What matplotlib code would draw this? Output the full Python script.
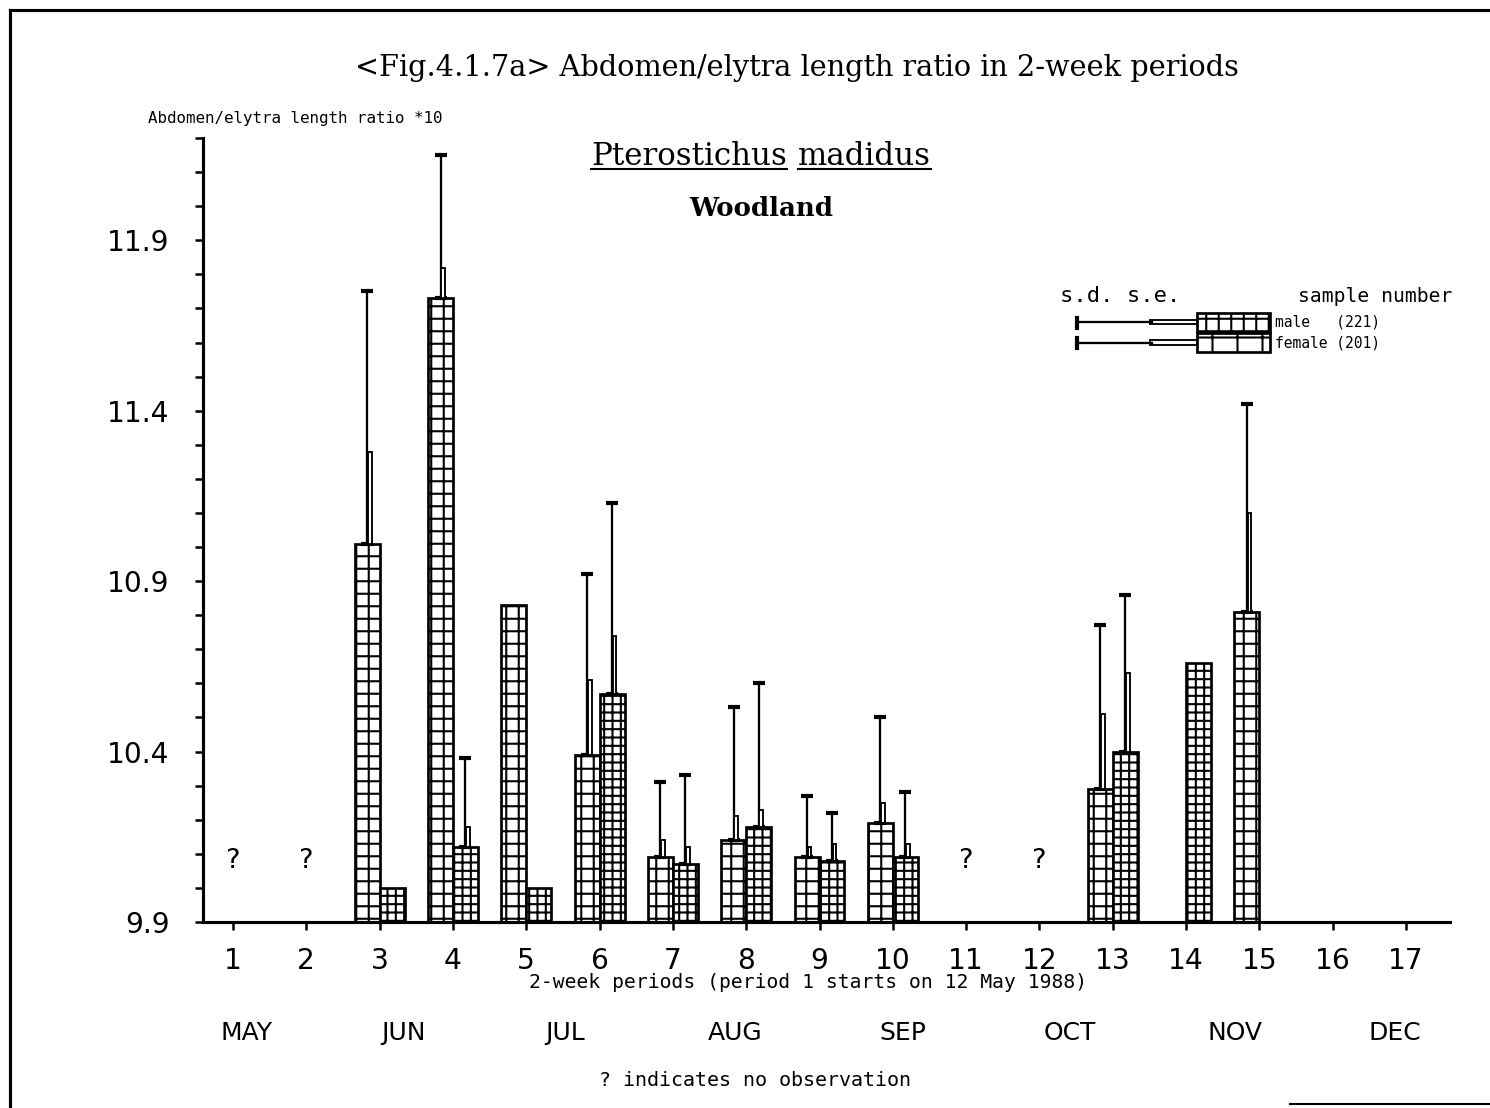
import numpy as np
import matplotlib
matplotlib.use("Agg")
import matplotlib.pyplot as plt
import matplotlib.transforms as mtransforms
from matplotlib.patches import Rectangle
from matplotlib.lines import Line2D

# 2-week periods (period 1 starts on 12 May 1988)
periods = np.arange(1, 18)
no_obs = [1, 2, 11, 12]
months = ["MAY", "JUN", "JUL", "AUG", "SEP", "OCT", "NOV", "DEC"]
month_pos = [1.19, 3.32, 5.53, 7.85, 10.14, 12.42, 14.67, 16.85]

# abdomen/elytra length ratio x10 (nan = no bar / no error bar)
nan = np.nan
female_mean = np.array([nan, nan, 11.01, 11.73, 10.83, 10.39, 10.09, 10.14, 10.09,
                        10.19, nan, nan, 10.29, nan, 10.81, nan, nan])
female_se_top = np.array([nan, nan, 11.28, 11.82, nan, 10.61, 10.14, 10.21, 10.12,
                          10.25, nan, nan, 10.51, nan, 11.10, nan, nan])
female_sd_top = np.array([nan, nan, 11.75, 12.15, nan, 10.92, 10.31, 10.53, 10.27,
                          10.50, nan, nan, 10.77, nan, 11.42, nan, nan])
male_mean = np.array([nan, nan, 10.00, 10.12, 10.00, 10.57, 10.07, 10.18, 10.08,
                      10.09, nan, nan, 10.40, 10.66, nan, nan, nan])
male_se_top = np.array([nan, nan, nan, 10.18, nan, 10.74, 10.12, 10.23, 10.13,
                        10.13, nan, nan, 10.63, nan, nan, nan, nan])
male_sd_top = np.array([nan, nan, nan, 10.38, nan, 11.13, 10.33, 10.60, 10.22,
                        10.28, nan, nan, 10.86, nan, nan, nan, nan])
n_male, n_female = 221, 201

YMIN, YMAX = 9.9, 12.2
BW = 0.34
W, H, DPI = 1490, 1108, 150
MONO = 'DejaVu Sans Mono'   # plotter-style lettering

plt.rcParams['hatch.linewidth'] = 1.0
plt.rcParams['font.family'] = ['DejaVu Sans']

fig = plt.figure(figsize=(W / DPI, H / DPI), dpi=DPI)
fx = lambda px: px / W
fy = lambda py: 1 - py / H

ax = fig.add_axes([fx(203), fy(922), fx(1450) - fx(203), fy(138) - fy(922)])
ax.set_xlim(0.59, 17.6)
ax.set_ylim(YMIN, YMAX)
for s in ['top', 'right']:
    ax.spines[s].set_visible(False)
for s in ['left', 'bottom']:
    ax.spines[s].set_linewidth(1.5)


def draw_series(xoff, mean, se_top, sd_top, hatch):
    m = ~np.isnan(mean)
    x = periods[m] + xoff
    ax.bar(x, mean[m] - YMIN, bottom=YMIN, width=BW, facecolor='white',
           edgecolor='black', hatch=hatch, lw=1.3, zorder=2)
    e = ~np.isnan(sd_top)
    xe = periods[e] + xoff
    ax.errorbar(xe, mean[e], yerr=[np.zeros(e.sum()), sd_top[e] - mean[e]],
                fmt='none', ecolor='black', elinewidth=1.1, capsize=3,
                capthick=2.0, zorder=3)
    ax.bar(xe + 0.035, se_top[e] - mean[e], bottom=mean[e], width=0.05,
           facecolor='white', edgecolor='black', lw=0.9, zorder=4)


draw_series(-BW / 2, female_mean, female_se_top, female_sd_top, '++')
draw_series(BW / 2, male_mean, male_se_top, male_sd_top, '+++')

for p in no_obs:
    ax.text(p, 10.08, '?', ha='center', va='center', fontsize=13)

# axes ticks
ax.set_yticks([9.9, 10.4, 10.9, 11.4, 11.9])
ax.set_yticklabels(['9.9', '10.4', '10.9', '11.4', '11.9'], fontsize=13.5)
ax.set_yticks(np.round(np.arange(9.9, 12.25, 0.1), 1), minor=True)
ax.set_xticks(periods)
ax.set_xticklabels([str(p) for p in periods], fontsize=13.5)
ax.tick_params(axis='both', which='both', direction='out', length=4, width=1.2)
ax.tick_params(axis='y', pad=12)
ax.tick_params(axis='x', pad=8)

# month labels under the periods
trans = mtransforms.blended_transform_factory(ax.transData, fig.transFigure)
for mo, xp in zip(months, month_pos):
    ax.text(xp, fy(1033), mo, transform=trans, ha='center', va='center',
            fontsize=12, clip_on=False)

# titles
fig.text(fx(797), fy(68), '<Fig.4.1.7a> Abdomen/elytra length ratio in 2-week periods',
         ha='center', va='center', family='DejaVu Serif', fontsize=13.8)
fig.text(fx(148), fy(118), 'Abdomen/elytra length ratio *10', ha='left',
         va='center', family=MONO, fontsize=7.6)
t1 = fig.text(fx(787), fy(165), 'Pterostichus', ha='right', va='baseline',
              family='DejaVu Serif', fontsize=14.8)
t2 = fig.text(fx(798), fy(165), 'madidus', ha='left', va='baseline',
              family='DejaVu Serif', fontsize=14.8)
fig.text(fx(761), fy(208), 'Woodland', ha='center', va='center',
         family='DejaVu Serif', fontweight='bold', fontsize=12.5)

renderer = fig.canvas.get_renderer()
for t in (t1, t2):
    bb = t.get_window_extent(renderer)
    fig.add_artist(Line2D([bb.x0 / fig.bbox.width, bb.x1 / fig.bbox.width],
                          [fy(169), fy(169)], color='black', lw=1.0))

fig.text(fx(808), fy(983), '2-week periods (period 1 starts on 12 May 1988)',
         ha='center', va='center', family=MONO, fontsize=9.4)
fig.text(fx(755), fy(1081), '? indicates no observation', ha='center',
         va='center', family=MONO, fontsize=9.6)

# legend
fig.text(fx(1060), fy(296), 's.d. s.e.', ha='left', va='center',
         family=MONO, fontsize=10.6)
fig.text(fx(1298), fy(296), 'sample number', ha='left', va='center',
         family=MONO, fontsize=9.4)
legend_rows = [(313, 'male', n_male, '++'), (333, 'female', n_female, '+')]
for top, lab, n, h in legend_rows:
    yc = top + 9.5
    fig.add_artist(Rectangle((fx(1197), fy(top + 19)), fx(1270) - fx(1197),
                             fy(top) - fy(top + 19), facecolor='white',
                             edgecolor='black', hatch=h, lw=1.3,
                             transform=fig.transFigure))
    fig.add_artist(Line2D([fx(1077), fx(1152)], [fy(yc), fy(yc)], color='black', lw=1.1))
    fig.add_artist(Line2D([fx(1077), fx(1077)], [fy(yc - 5), fy(yc + 5)], color='black', lw=2))
    fig.add_artist(Rectangle((fx(1150), fy(yc + 2)), fx(1197) - fx(1150),
                             fy(yc - 2) - fy(yc + 2), facecolor='white',
                             edgecolor='black', lw=0.9, transform=fig.transFigure))
    fig.text(fx(1275), fy(yc), f'{lab:<7s}({n})', ha='left', va='center',
             family=MONO, fontsize=7)

# page frame
fig.add_artist(Line2D([fx(10), fx(1490)], [fy(10), fy(10)], color='black', lw=1.5))
fig.add_artist(Line2D([fx(10), fx(10)], [fy(10), fy(1108)], color='black', lw=1.5))
fig.add_artist(Line2D([fx(1290), fx(1490)], [fy(1104), fy(1104)], color='black', lw=1.0))

fig.savefig('out.png', dpi=DPI, facecolor='white')
